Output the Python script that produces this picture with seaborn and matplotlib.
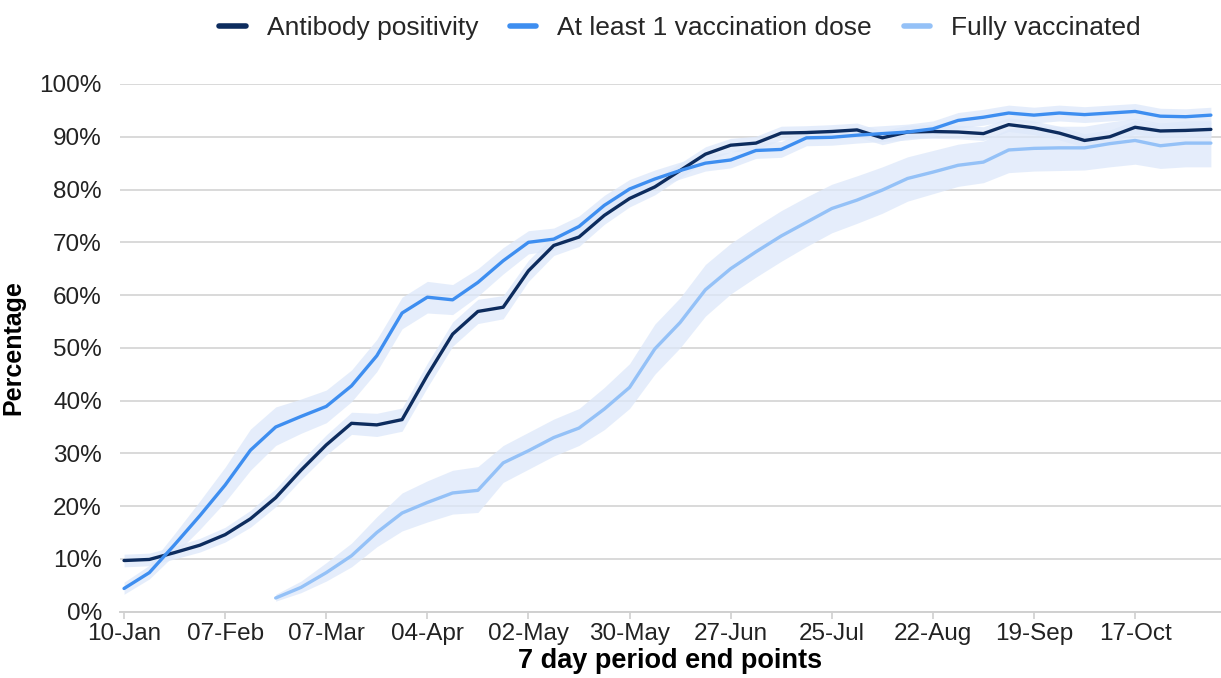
import numpy as np
import pandas as pd
import matplotlib
matplotlib.use("Agg")
import matplotlib.pyplot as plt
import seaborn as sns

# ---------------- data ----------------
weeks = list(pd.date_range("2021-01-10", periods=44, freq="7D").strftime("%d-%b"))
tick_labels = ["10-Jan", "07-Feb", "07-Mar", "04-Apr", "02-May", "30-May",
               "27-Jun", "25-Jul", "22-Aug", "19-Sep", "17-Oct"]

antibody = [9.7, 9.9, 11.2, 12.6, 14.6, 17.6, 21.6, 26.8, 31.6, 35.7, 35.4, 36.4,
            44.8, 52.6, 56.9, 57.7, 64.6, 69.4, 71.0, 75.1, 78.3, 80.5, 83.6, 86.7,
            88.4, 88.8, 90.7, 90.8, 91.0, 91.3, 89.8, 90.9, 91.0, 90.9, 90.6, 92.3,
            91.7, 90.7, 89.3, 90.0, 91.8, 91.1, 91.2, 91.4]
antibody_lo = [8.5, 8.7, 10.0, 11.3, 13.2, 16.0, 19.9, 25.0, 29.7, 33.6, 33.2, 34.2,
               42.5, 50.3, 54.6, 55.5, 62.6, 67.5, 69.2, 73.4, 76.7, 79.0, 82.2, 85.3,
               87.1, 87.5, 89.4, 89.5, 89.7, 90.0, 88.5, 89.6, 89.7, 89.6, 89.3, 91.0,
               90.4, 89.4, 88.0, 88.7, 90.5, 89.8, 89.9, 90.1]
antibody_hi = [10.9, 11.1, 12.4, 13.9, 16.0, 19.2, 23.3, 28.6, 33.5, 37.8, 37.6, 38.6,
               47.1, 54.9, 59.2, 59.9, 66.6, 71.3, 72.8, 76.8, 79.9, 82.0, 85.0, 88.1,
               89.7, 90.1, 92.0, 92.1, 92.3, 92.6, 91.1, 92.2, 92.3, 92.2, 91.9, 93.6,
               93.0, 92.0, 90.6, 91.3, 93.1, 92.4, 92.5, 92.7]

one_dose = [4.4, 7.4, 12.7, 18.2, 24.0, 30.6, 35.0, 37.0, 38.9, 42.8, 48.5, 56.6,
            59.6, 59.1, 62.4, 66.5, 70.0, 70.6, 73.0, 77.0, 80.1, 82.0, 83.6, 85.0,
            85.6, 87.4, 87.6, 89.8, 89.9, 90.3, 90.6, 90.9, 91.5, 93.1, 93.7, 94.5,
            94.1, 94.5, 94.2, 94.5, 94.8, 93.9, 93.8, 94.1]
one_dose_lo = [3.3, 6.2, 10.8, 15.6, 20.8, 26.8, 31.5, 33.8, 35.8, 39.8, 45.5, 53.6,
               56.6, 56.3, 59.8, 64.0, 67.8, 68.5, 71.0, 75.1, 78.3, 80.3, 82.0, 83.5,
               84.1, 85.9, 86.1, 88.3, 88.4, 88.8, 89.1, 89.4, 90.0, 91.6, 92.2, 93.0,
               92.6, 93.0, 92.7, 93.0, 93.3, 92.4, 92.3, 92.6]
one_dose_hi = [5.6, 8.8, 14.8, 21.0, 27.4, 34.6, 38.8, 40.3, 42.0, 45.8, 51.6, 59.6,
               62.6, 62.0, 65.0, 69.0, 72.2, 72.7, 75.0, 78.9, 81.9, 83.7, 85.2, 86.5,
               87.1, 88.9, 89.1, 91.3, 91.4, 91.8, 92.1, 92.4, 93.0, 94.6, 95.2, 96.0,
               95.6, 96.0, 95.7, 96.0, 96.3, 95.4, 95.3, 95.6]

nan = np.nan
fully = [nan, nan, nan, nan, nan, nan, 2.6, 4.6, 7.4, 10.6, 15.0, 18.7,
         20.7, 22.5, 23.0, 28.2, 30.5, 33.0, 34.8, 38.4, 42.5, 49.8, 54.8, 61.0,
         65.0, 68.2, 71.2, 73.8, 76.4, 78.0, 79.9, 82.1, 83.3, 84.6, 85.2, 87.5,
         87.8, 87.9, 87.9, 88.7, 89.3, 88.3, 88.8, 88.8]
fully_lo = [nan, nan, nan, nan, nan, nan, 2.0, 3.6, 5.8, 8.5, 12.3, 15.3,
            17.0, 18.5, 18.8, 24.5, 27.0, 29.5, 31.5, 34.5, 38.5, 45.0, 50.0, 56.0,
            60.2, 63.4, 66.4, 69.2, 71.8, 73.6, 75.5, 77.8, 79.2, 80.6, 81.3, 83.2,
            83.5, 83.6, 83.7, 84.3, 84.8, 84.0, 84.3, 84.3]
fully_hi = [nan, nan, nan, nan, nan, nan, 3.3, 5.8, 9.3, 13.0, 18.0, 22.5,
            24.8, 26.8, 27.5, 31.5, 34.0, 36.5, 38.5, 42.5, 47.0, 54.5, 59.5, 65.8,
            69.8, 73.0, 76.0, 78.6, 81.0, 82.6, 84.3, 86.2, 87.4, 88.6, 89.2, 91.5,
            92.0, 92.0, 92.0, 92.8, 93.5, 92.6, 93.0, 93.0]

series_names = ["Antibody positivity", "At least 1 vaccination dose", "Fully vaccinated"]
colors = ["#0d2c5e", "#3e8ef0", "#94c1f7"]
band_color = "#dde8fa"

# ---------------- frame ----------------
idx = np.arange(len(weeks))
df = pd.concat([
    pd.DataFrame({"week": idx, "value": antibody, "lo": antibody_lo, "hi": antibody_hi, "series": series_names[0]}),
    pd.DataFrame({"week": idx, "value": one_dose, "lo": one_dose_lo, "hi": one_dose_hi, "series": series_names[1]}),
    pd.DataFrame({"week": idx, "value": fully, "lo": fully_lo, "hi": fully_hi, "series": series_names[2]}),
], ignore_index=True)

sns.set_theme(style="white")
plt.rcParams["font.family"] = ["Liberation Sans", "DejaVu Sans"]

fig = plt.figure(figsize=(12.21, 6.78), dpi=100)
ax = fig.add_axes([120 / 1221, 1 - 611.7 / 678, 1101 / 1221, (611.7 - 84) / 678])

# confidence bands
for name in series_names:
    sub = df[df["series"] == name].dropna()
    ax.fill_between(sub["week"], sub["lo"], sub["hi"], color=band_color,
                    alpha=0.75, linewidth=0, zorder=1)

sns.lineplot(data=df.dropna(subset=["value"]), x="week", y="value", hue="series",
             hue_order=series_names, palette=colors, linewidth=2.4, ax=ax,
             zorder=3, legend=True)

ax.set_xlim(-0.16, 43.4)
ax.set_ylim(0, 100)
ax.set_yticks(np.arange(0, 101, 10))
ax.set_yticklabels([f"{v}%" for v in range(0, 101, 10)])
ax.set_xticks([weeks.index(t) for t in tick_labels])
ax.set_xticklabels(tick_labels)

ax.grid(axis="y", color="#d9d9d9", linewidth=1.4, zorder=0)
ax.grid(axis="x", visible=False)
for s in ["top", "right", "left"]:
    ax.spines[s].set_visible(False)
ax.spines["bottom"].set_color("#d0d0d0")
ax.spines["bottom"].set_linewidth(1.4)

ax.tick_params(axis="x", which="both", bottom=True, length=5, width=1.2,
               color="#d0d0d0", labelsize=17.5, labelcolor="#222222", pad=3)
ax.tick_params(axis="y", length=0, labelsize=17.5, labelcolor="#222222", pad=13)

ax.set_xlabel("7 day period end points", fontsize=19.5, fontweight="bold",
              color="black", labelpad=2)
ax.set_ylabel("Percentage", fontsize=18, fontweight="bold", color="black", labelpad=10)

leg = ax.legend(loc="center", bbox_to_anchor=(680 / 1221, 1 - 28 / 678),
                bbox_transform=fig.transFigure, ncol=3, frameon=False,
                fontsize=19, handlelength=1.0, handletextpad=0.8, columnspacing=1.2)
for line in leg.get_lines():
    line.set_linewidth(4)

fig.savefig("out.png", dpi=100, facecolor="white")
